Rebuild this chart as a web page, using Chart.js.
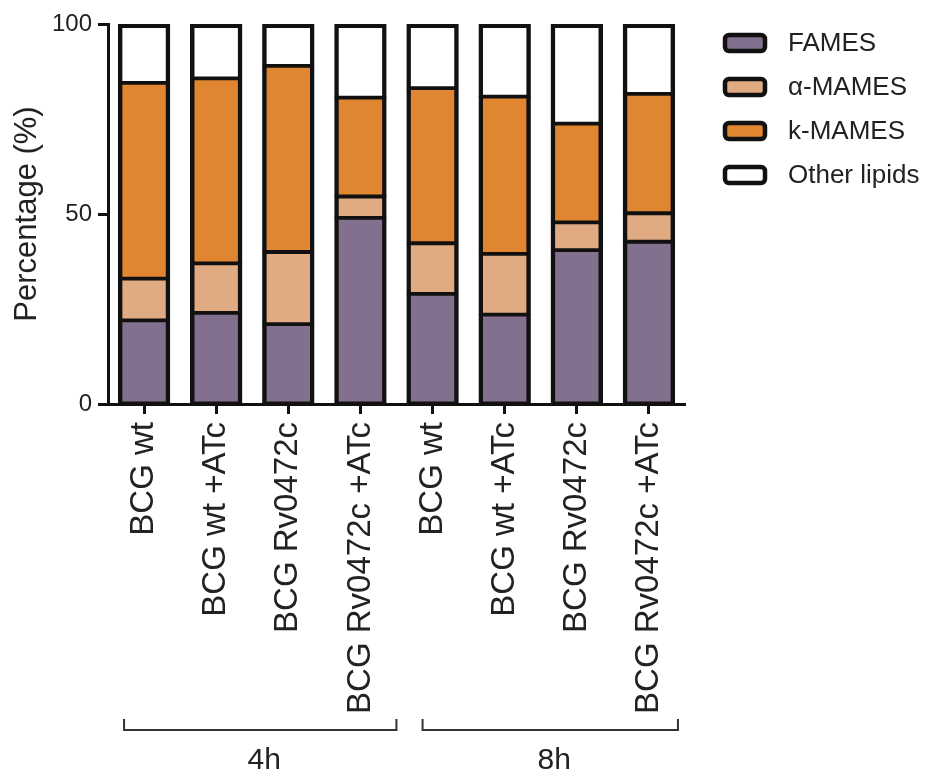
<!DOCTYPE html>
<html>
<head>
<meta charset="utf-8">
<script src="https://cdn.jsdelivr.net/npm/chart.js@4.4.0/dist/chart.umd.min.js"></script>
<style>
  body { margin: 0; background: #fff; }
  canvas { display: block; }
</style>
</head>
<body>
<canvas id="grafica" width="927" height="774"></canvas>
<script>
const muestras = ["BCG wt", "BCG wt +ATc", "BCG Rv0472c", "BCG Rv0472c +ATc",
                  "BCG wt", "BCG wt +ATc", "BCG Rv0472c", "BCG Rv0472c +ATc"];
const grupos = ["4h", "8h"];
const fames = [22, 24, 21, 49, 29, 23.5, 40.5, 42.7];
const alfaMames = [11, 13, 19, 5.6, 13.3, 16, 7.3, 7.5];
const kMames = [51.5, 48.7, 49, 26, 40.8, 41.4, 26, 31.4];
const otros = [15.5, 14.3, 11, 19.4, 16.9, 19.1, 26.2, 18.4];
const yTicks = [0, 50, 100];

const fuente = "'Liberation Sans', Arial, sans-serif";
const negro = '#111';

function serie(label, data, color, bordeArriba, bordeAbajo) {
    return {
        label: label,
        data: data,
        backgroundColor: color,
        borderColor: negro,
        borderWidth: { top: bordeArriba, bottom: bordeAbajo, left: 4.5, right: 4.5 },
        borderSkipped: false,
        inflateAmount: 0.6,
        barPercentage: 0.71,
        categoryPercentage: 1.0,
    };
}

// llaves de grupo bajo el eje x
const llaves = {
    id: 'llaves',
    afterDraw(chart) {
        const ctx = chart.ctx;
        const x = chart.scales.x;
        const tramos = [
            [x.getPixelForValue(0) - 20, x.getPixelForValue(3) + 36],
            [x.getPixelForValue(4) - 10, x.getPixelForValue(7) + 29],
        ];
        ctx.save();
        ctx.strokeStyle = '#333';
        ctx.lineWidth = 2;
        ctx.fillStyle = '#222';
        ctx.font = '30px ' + fuente;
        ctx.textAlign = 'center';
        ctx.textBaseline = 'middle';
        tramos.forEach(([a, b], i) => {
            ctx.beginPath();
            ctx.moveTo(a, 719);
            ctx.lineTo(a, 730);
            ctx.lineTo(b, 730);
            ctx.lineTo(b, 719);
            ctx.stroke();
            ctx.fillText(grupos[i], (a + b) / 2 + 4, 761);
        });
        ctx.restore();
    }
};

// leyenda a la derecha
const leyenda = {
    id: 'leyenda',
    afterDraw(chart) {
        const ctx = chart.ctx;
        ctx.save();
        chart.data.datasets.forEach((ds, i) => {
            const y = 33 + i * 44;
            ctx.beginPath();
            ctx.roundRect(725, y + 2, 40, 16, 4);
            ctx.fillStyle = ds.backgroundColor;
            ctx.fill();
            ctx.lineWidth = 4.5;
            ctx.strokeStyle = negro;
            ctx.stroke();
            ctx.fillStyle = '#222';
            ctx.font = '26px ' + fuente;
            ctx.textBaseline = 'middle';
            ctx.fillText(ds.label, 788, y + 11);
        });
        ctx.restore();
    }
};

new Chart(document.querySelector('#grafica'), {
    type: 'bar',
    data: {
        labels: muestras,
        datasets: [
            serie('FAMES', fames, '#82708e', 2.5, 2.5),
            serie('α-MAMES', alfaMames, '#e0ab82', 2.5, 2.5),
            serie('k-MAMES', kMames, '#e08630', 2.5, 2.5),
            serie('Other lipids', otros, '#ffffff', 4.5, 2.5),
        ]
    },
    options: {
        responsive: false,
        animation: false,
        layout: { padding: { left: 0, right: 242, top: 24, bottom: 0 } },
        plugins: {
            legend: { display: false },
            tooltip: { enabled: false },
        },
        scales: {
            x: {
                stacked: true,
                grid: { display: true, drawOnChartArea: false, offset: false, tickLength: 10, tickWidth: 3, tickColor: negro },
                border: { display: true, width: 3, color: negro },
                ticks: { color: '#222', font: { family: fuente, size: 33 }, minRotation: 90, maxRotation: 90, autoSkip: false, padding: 8 },
                afterFit(s) { s.height = 370; },
            },
            y: {
                stacked: true,
                min: 0,
                max: 100,
                afterBuildTicks(s) { s.ticks = yTicks.map(v => ({ value: v })); },
                grid: { display: true, drawOnChartArea: false, tickLength: 10, tickWidth: 3, tickColor: negro },
                border: { display: true, width: 3, color: negro },
                ticks: { color: '#222', font: { family: fuente, size: 24 }, padding: 6 },
                title: { display: true, text: 'Percentage (%)', color: '#222', font: { family: fuente, size: 31, weight: 'normal' }, padding: { top: 9, bottom: 0 } },
                afterFit(s) { s.width = 108; },
            }
        }
    },
    plugins: [llaves, leyenda]
});
</script>
</body>
</html>
